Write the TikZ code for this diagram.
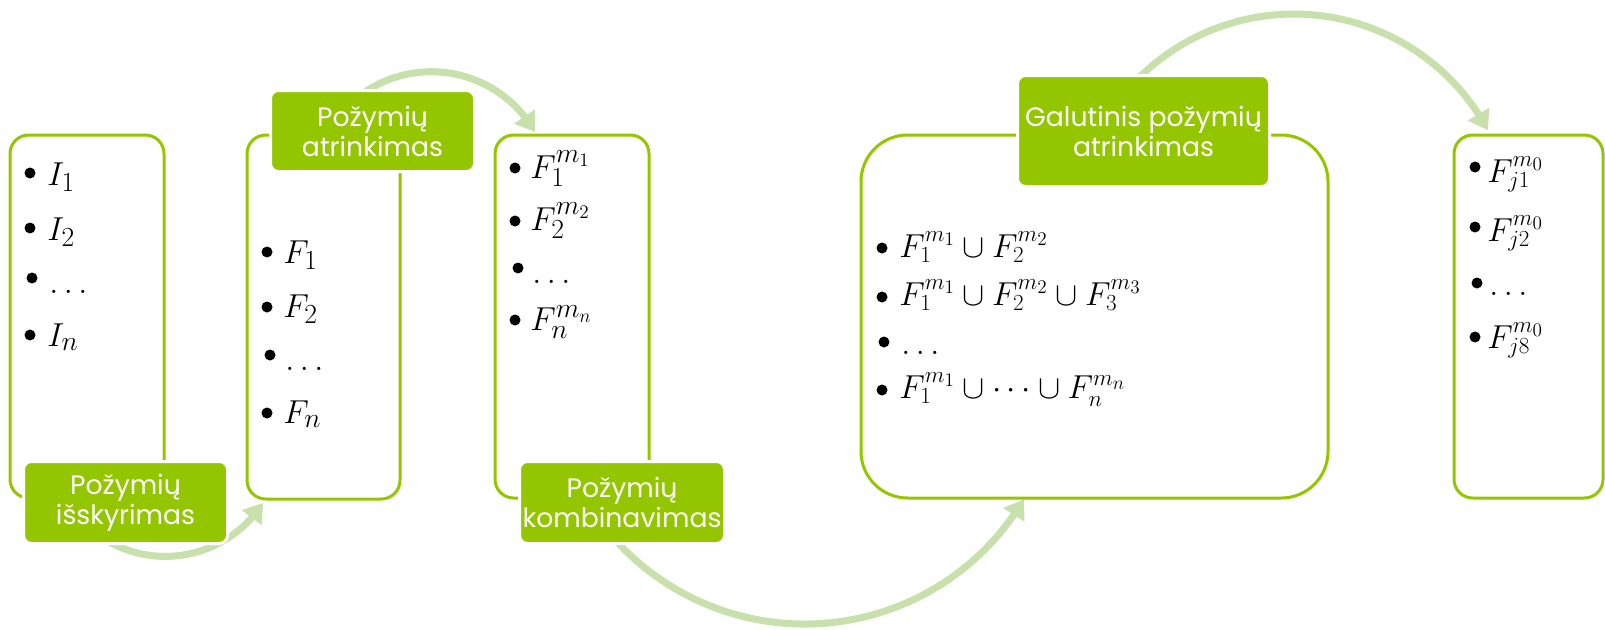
\documentclass[tikz,border=0pt]{standalone}
\usepackage[no-math]{fontspec}
\newfontfamily\labelfont{Poppins}
\usetikzlibrary{arrows.meta,bending}
\definecolor{leaf}{RGB}{148,198,0}
\definecolor{leafpale}{RGB}{199,224,172}

\begin{document}
\begin{tikzpicture}[x=0.75pt,y=-0.75pt,
  panel/.style={draw=leaf, line width=2.25pt, rounded corners=14pt, inner sep=0pt},
  stage/.style={fill=leaf, draw=white, line width=2.25pt, rounded corners=6pt,
    inner sep=0pt, text=white, align=center,
    font=\labelfont\fontsize{20}{22.5}\selectfont},
  flow/.style={draw=leafpale, line width=5.25pt,
    -{Triangle[width=18pt,length=14pt,flex]}},
  dot/.style={circle, fill=black, inner sep=0pt, minimum size=8.25pt},
  item/.style={anchor=base west, inner sep=0pt, font=\fontsize{29}{35}\selectfont},
  itemsm/.style={anchor=base west, inner sep=0pt, font=\fontsize{27}{33}\selectfont}]

\useasboundingbox (0,0) rectangle (1605,629);

% curved flow arrows (drawn first, the stage labels cover their tails)
\coordinate (f1s) at (98.8,535.4);
\coordinate (f2s) at (347.2,106.6);
\coordinate (f3s) at (609.2,532.9);
\coordinate (f4s) at (1125.2,92.7);
\draw[flow] (f1s) arc[start angle=-235, end angle=-327.4, radius=116];
\draw[flow] (f2s) arc[start angle=-135, end angle=-29.6, radius=119.1];
\draw[flow] (f3s) arc[start angle=-220, end angle=-329.3, radius=255.1];
\draw[flow] (f4s) arc[start angle=-140, end angle=-28.2, radius=220.2];

% list panels
\node[panel, minimum width=115.5pt, minimum height=272.25pt] (p1) at (87,316.5) {};
\node[panel, minimum width=114.75pt, minimum height=273pt] (p2) at (323.5,317) {};
\node[panel, minimum width=115.5pt, minimum height=272.25pt] (p3) at (572,316.5) {};
\node[panel, rounded corners=35pt, minimum width=350.25pt, minimum height=272.25pt] (p4) at (1094.5,316.5) {};
\node[panel, minimum width=111.75pt, minimum height=272.25pt] (p5) at (1528.5,316.5) {};

% panel 1
\node[dot] (d11) at (30,173) {};
\node[dot] (d12) at (30,228) {};
\node[dot] (d13) at (32,278) {};
\node[dot] (d14) at (30,335) {};
\node[item] (t11) at (47,185) {$I_1$};
\node[item] (t12) at (47,240) {$I_2$};
\node[item] (t13) at (49,293) {$\ldots$};
\node[item] (t14) at (47,346) {$I_n$};

% panel 2
\node[dot] (d21) at (267,252) {};
\node[dot] (d22) at (267,307) {};
\node[dot] (d23) at (270,355) {};
\node[dot] (d24) at (267,413) {};
\node[item] (t21) at (283,263) {$F_1$};
\node[item] (t22) at (283,317) {$F_2$};
\node[item] (t23) at (285,370) {$\ldots$};
\node[item] (t24) at (283,423) {$F_n$};

% panel 3
\node[dot] (d31) at (515,168) {};
\node[dot] (d32) at (515,221) {};
\node[dot] (d33) at (518,268) {};
\node[dot] (d34) at (515,320) {};
\node[item] (t31) at (530,178) {$F_1^{m_1}$};
\node[item] (t32) at (530,230) {$F_2^{m_2}$};
\node[item] (t33) at (532,283) {$\ldots$};
\node[item] (t34) at (530,330) {$F_n^{m_n}$};

% panel 4
\node[dot] (d41) at (882,248) {};
\node[dot] (d42) at (882,297) {};
\node[dot] (d43) at (884,342) {};
\node[dot] (d44) at (882,390) {};
\node[itemsm] (t41) at (899,257) {$F_1^{m_1}\cup F_2^{m_2}$};
\node[itemsm] (t42) at (899,305) {$F_1^{m_1}\cup F_2^{m_2}\cup F_3^{m_3}$};
\node[itemsm] (t43) at (901,354) {$\ldots$};
\node[itemsm] (t44) at (899,398) {$F_1^{m_1}\cup\cdots\cup F_n^{m_n}$};

% panel 5
\node[dot] (d51) at (1475,167) {};
\node[dot] (d52) at (1475,227) {};
\node[dot] (d53) at (1477,283) {};
\node[dot] (d54) at (1475,337) {};
\node[itemsm] (t51) at (1487,182) {$F_{j1}^{m_0}$};
\node[itemsm] (t52) at (1487,241) {$F_{j2}^{m_0}$};
\node[itemsm] (t53) at (1489,295) {$\ldots$};
\node[itemsm] (t54) at (1487,348) {$F_{j8}^{m_0}$};

% stage labels
\node[stage, minimum width=153pt, minimum height=61.5pt] (s1) at (125.5,502.5) {Požymių\\išskyrimas};
\node[stage, minimum width=153pt, minimum height=60.75pt] (s2) at (372.5,131) {Požymių\\atrinkimas};
\node[stage, minimum width=153.75pt, minimum height=61.5pt] (s3) at (622,502.5) {Požymių\\kombinavimas};
\node[stage, minimum width=189pt, minimum height=83.25pt] (s4) at (1143.5,131) {Galutinis požymių\\atrinkimas};
\end{tikzpicture}
\end{document}
